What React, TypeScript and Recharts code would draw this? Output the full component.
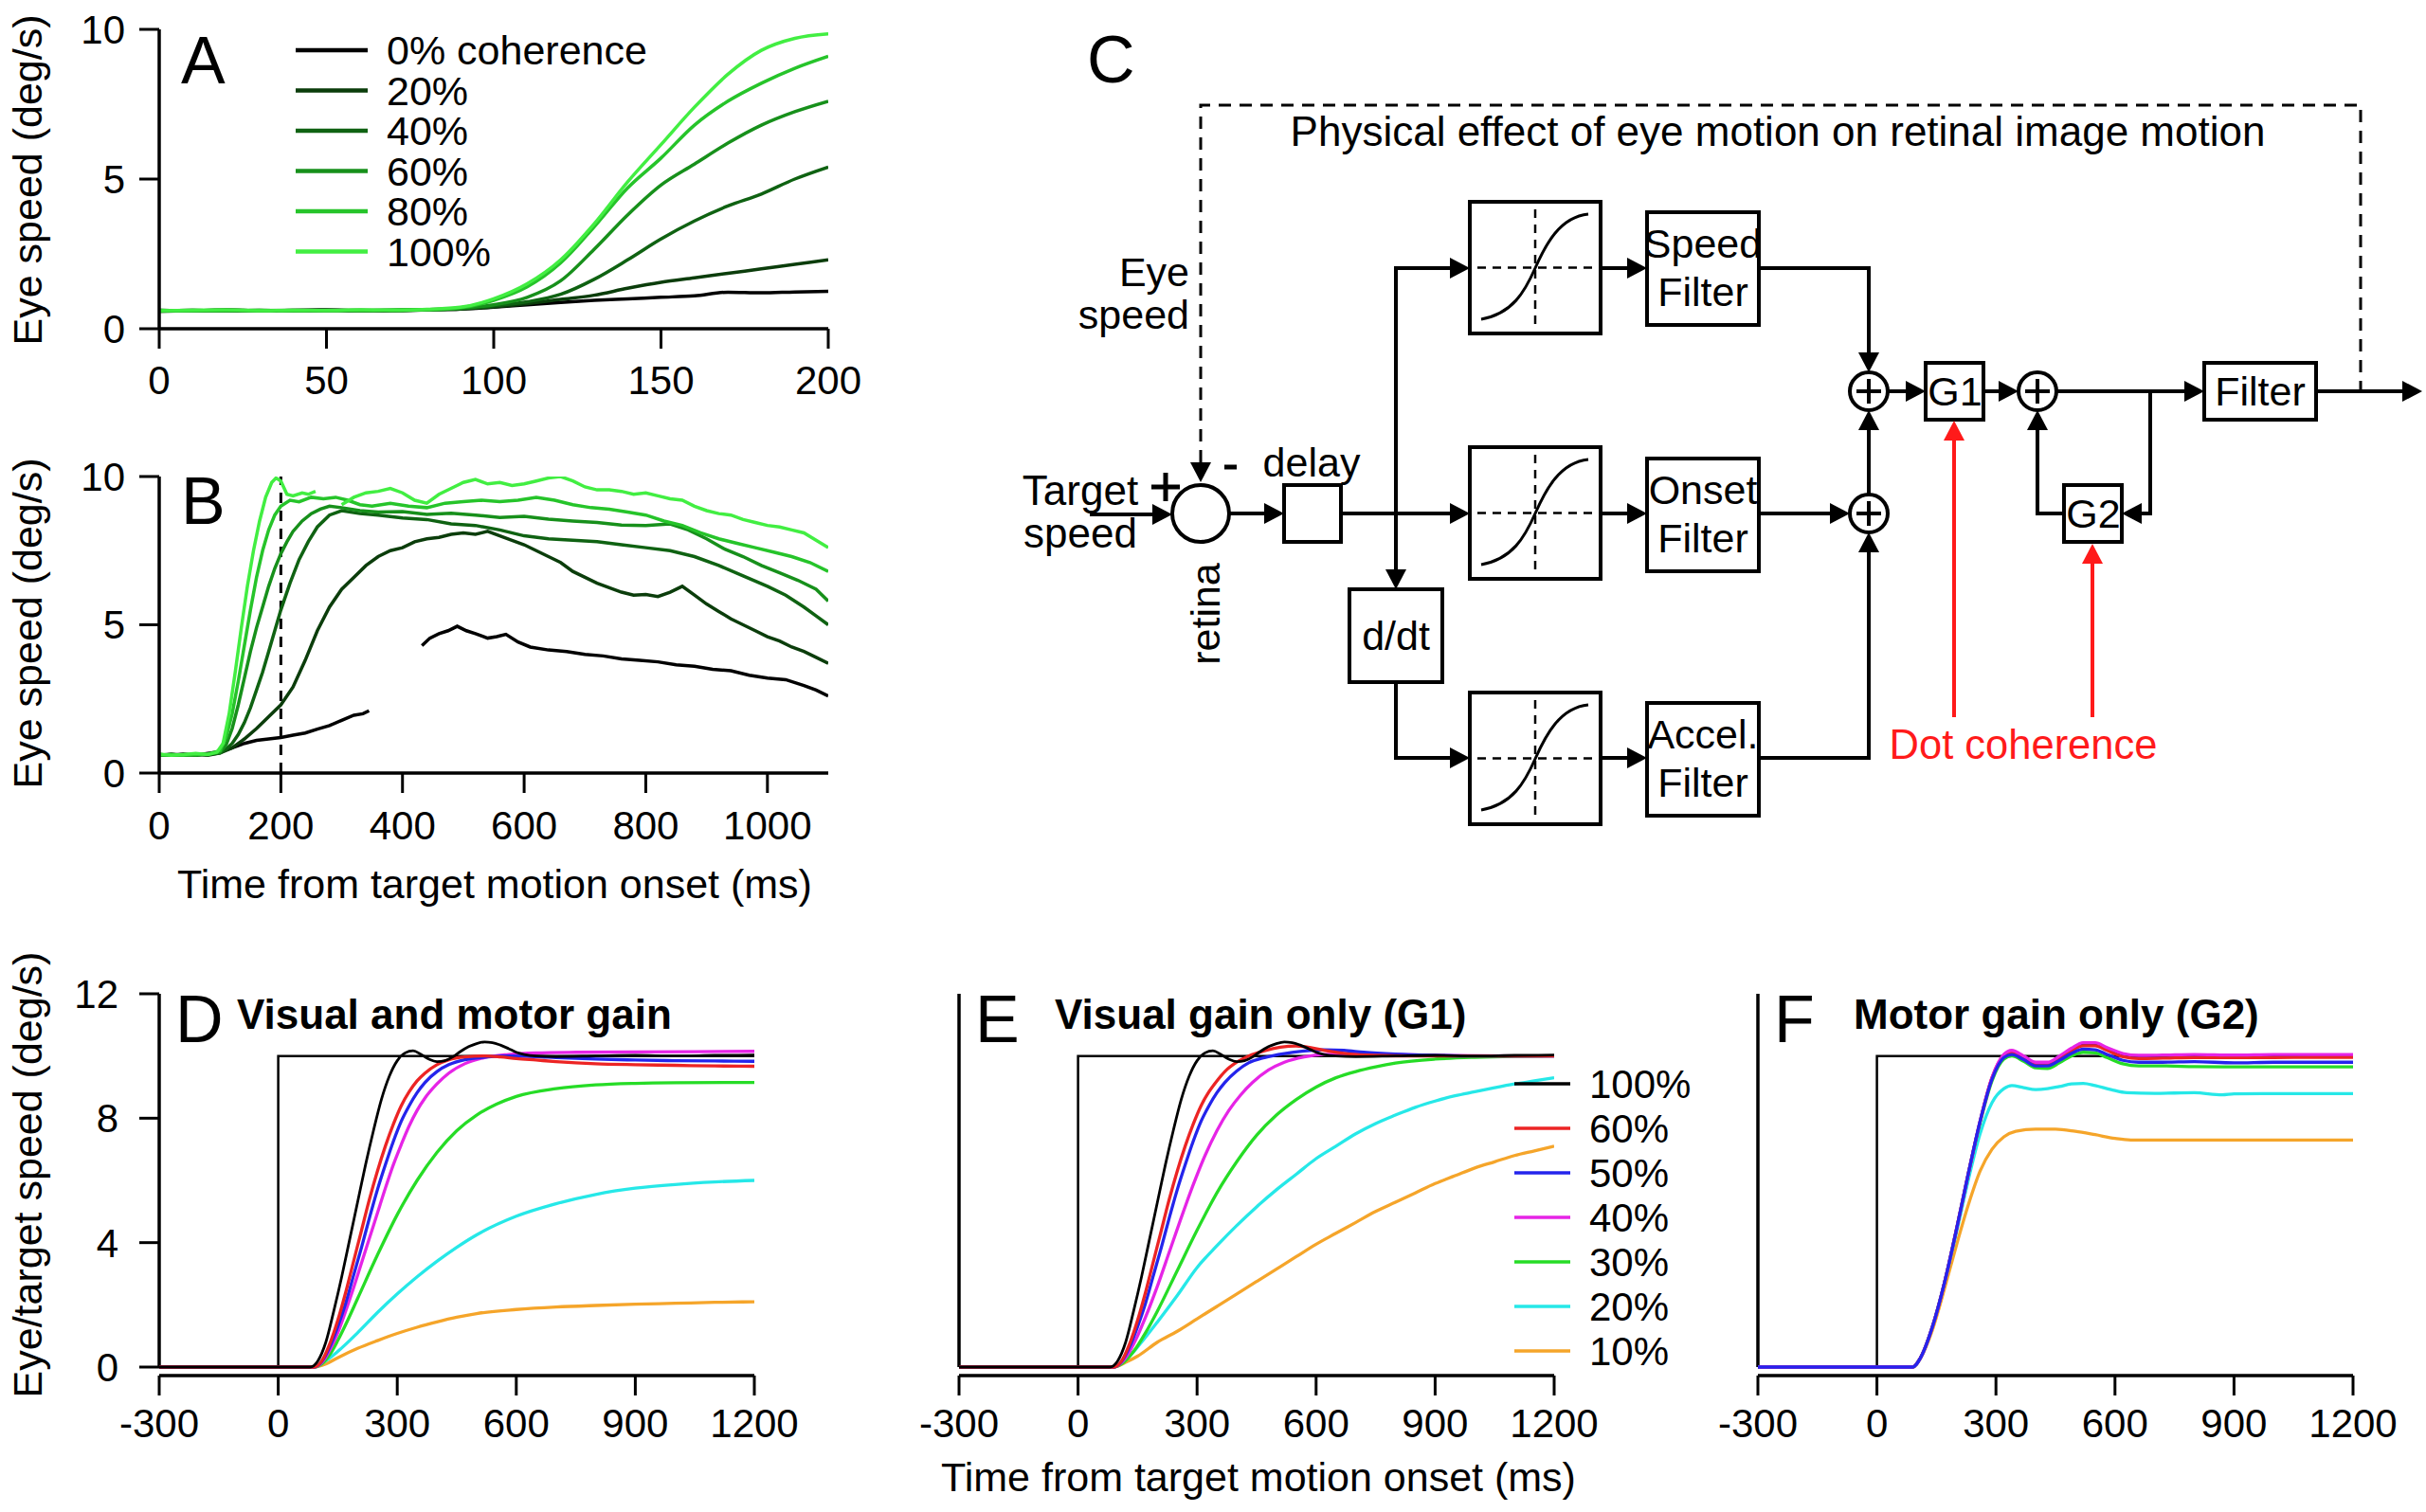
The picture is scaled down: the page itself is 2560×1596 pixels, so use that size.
import React from 'react';
import { LineChart, Line, XAxis, YAxis, ReferenceLine } from 'recharts';

const FONT = '"Liberation Sans", Arial, Helvetica, sans-serif';

// ---------------- Panel A (0-200 ms) ----------------
const A_TIME = [0, 10, 20, 30, 40, 50, 60, 70, 80, 90, 100, 110, 120, 130, 140, 150, 160, 170, 180, 190, 200];
const A_0 = [0.62, 0.6, 0.63, 0.6, 0.62, 0.63, 0.61, 0.62, 0.64, 0.66, 0.72, 0.8, 0.88, 0.95, 1.0, 1.05, 1.1, 1.22, 1.2, 1.23, 1.25];
const A_20 = [0.6, 0.62, 0.6, 0.62, 0.6, 0.61, 0.62, 0.6, 0.63, 0.66, 0.73, 0.84, 0.98, 1.12, 1.35, 1.55, 1.7, 1.85, 2.0, 2.15, 2.3];
const A_40 = [0.58, 0.6, 0.62, 0.6, 0.61, 0.62, 0.6, 0.61, 0.63, 0.67, 0.76, 0.9, 1.15, 1.65, 2.3, 3.0, 3.6, 4.1, 4.5, 5.0, 5.4];
const A_60 = [0.6, 0.62, 0.6, 0.61, 0.62, 0.6, 0.62, 0.61, 0.63, 0.68, 0.8, 1.05, 1.6, 2.65, 3.8, 4.8, 5.5, 6.2, 6.8, 7.25, 7.6];
const A_80 = [0.62, 0.6, 0.61, 0.62, 0.6, 0.62, 0.61, 0.63, 0.64, 0.7, 0.95, 1.4, 2.2, 3.4, 4.7, 5.7, 6.8, 7.6, 8.2, 8.7, 9.1];
const A_100 = [0.6, 0.62, 0.63, 0.6, 0.62, 0.61, 0.63, 0.62, 0.65, 0.72, 1.0, 1.5, 2.3, 3.5, 4.9, 6.15, 7.4, 8.5, 9.3, 9.7, 9.85];
const A_LABELS = ['0% coherence', '20%', '40%', '60%', '80%', '100%'];
const GREENS = ['#000000', '#0b3d0b', '#0f6212', '#17901b', '#26c42a', '#42ee42'];
const A_X_TICKS = [0, 50, 100, 150, 200];
const AB_Y_TICKS = [0, 5, 10];

// ---------------- Panel B (0-1100 ms) ----------------
const B_0 = [[0,0.62],[20,0.6],[40,0.64],[60,0.6],[80,0.66],[100,0.72],[120,0.85],[140,1.0],[160,1.1],[180,1.15],[200,1.2],[220,1.28],[240,1.35],[260,1.48],[280,1.6],[300,1.78],[320,1.95],[335,2.0],[345,2.1],[346,null],[432,4.3],[445,4.55],[460,4.7],[475,4.8],[490,4.95],[505,4.8],[520,4.7],[540,4.55],[555,4.6],[570,4.68],[590,4.42],[610,4.25],[640,4.15],[670,4.1],[700,4.0],[730,3.95],[760,3.85],[790,3.8],[820,3.75],[850,3.65],[880,3.6],[910,3.5],[940,3.45],[970,3.3],[1000,3.2],[1030,3.15],[1060,2.95],[1080,2.8],[1100,2.6]];
const B_20 = [[0,0.6],[20,0.64],[40,0.6],[60,0.63],[80,0.6],[100,0.68],[120,0.85],[140,1.15],[160,1.5],[180,1.9],[200,2.3],[220,2.9],[240,3.8],[260,4.8],[280,5.6],[300,6.2],[320,6.6],[340,7.0],[360,7.3],[380,7.5],[400,7.6],[420,7.8],[440,7.9],[460,7.95],[480,8.05],[500,8.1],[520,8.05],[540,8.15],[560,8.0],[580,7.85],[600,7.7],[620,7.5],[640,7.3],[660,7.1],[680,6.8],[700,6.6],[720,6.4],[740,6.25],[760,6.1],[780,6.0],[800,6.02],[820,5.95],[840,6.1],[860,6.3],[880,6.0],[900,5.7],[920,5.45],[940,5.2],[960,5.0],[980,4.8],[1000,4.6],[1020,4.45],[1040,4.25],[1060,4.1],[1080,3.9],[1100,3.7]];
const B_40 = [[0,0.6],[20,0.62],[40,0.6],[60,0.64],[80,0.62],[100,0.68],[110,0.8],[120,1.0],[130,1.3],[140,1.7],[150,2.2],[160,2.8],[170,3.4],[180,4.1],[190,4.8],[200,5.5],[215,6.4],[230,7.2],[245,7.8],[260,8.3],[280,8.7],[300,8.85],[330,8.75],[360,8.7],[400,8.6],[440,8.55],[480,8.4],[520,8.35],[560,8.2],[600,8.0],[640,7.9],[680,7.85],[720,7.8],[760,7.7],[800,7.6],[840,7.5],[880,7.3],[920,7.0],[960,6.65],[1000,6.3],[1030,6.0],[1060,5.6],[1080,5.3],[1100,5.0]];
const B_60 = [[0,0.62],[20,0.6],[40,0.63],[60,0.6],[80,0.64],[100,0.7],[110,0.95],[120,1.5],[130,2.3],[140,3.2],[150,4.1],[160,4.9],[170,5.6],[180,6.3],[190,6.9],[200,7.4],[210,7.8],[220,8.15],[235,8.5],[250,8.75],[265,8.9],[280,9.0],[300,8.95],[330,8.85],[360,8.8],[400,8.82],[440,8.72],[480,8.76],[520,8.7],[560,8.62],[600,8.66],[640,8.56],[680,8.5],[720,8.45],[760,8.36],[800,8.35],[840,8.4],[870,8.2],[900,7.9],[930,7.55],[960,7.3],[990,7.0],[1020,6.75],[1050,6.5],[1080,6.2],[1100,5.8]];
const B_80 = [[0,0.6],[20,0.62],[40,0.6],[60,0.62],[80,0.64],[100,0.75],[110,1.2],[120,2.0],[130,3.1],[140,4.3],[150,5.5],[160,6.6],[170,7.5],[180,8.2],[190,8.7],[200,9.0],[215,9.2],[230,9.15],[250,9.3],[270,9.25],[290,9.3],[310,9.2],[330,9.05],[350,9.0],[380,9.1],[410,9.0],[440,8.95],[470,9.1],[500,9.15],[530,9.2],[560,9.15],[590,9.2],[620,9.3],[650,9.2],[680,9.05],[710,8.95],[740,8.9],[770,8.8],[800,8.7],[830,8.5],[860,8.35],[890,8.1],[920,7.9],[950,7.75],[980,7.6],[1010,7.45],[1040,7.3],[1070,7.1],[1100,6.8]];
const B_100 = [[0,0.64],[20,0.6],[40,0.62],[60,0.66],[80,0.62],[95,0.7],[105,1.0],[115,2.0],[125,3.4],[135,4.9],[145,6.3],[155,7.5],[165,8.5],[175,9.3],[185,9.8],[192,9.95],[200,9.85],[210,9.4],[220,9.35],[235,9.45],[245,9.4],[257,9.5],[258,null],[300,9.05],[320,9.3],[340,9.45],[360,9.5],[380,9.6],[400,9.45],[420,9.2],[440,9.1],[460,9.4],[480,9.6],[500,9.8],[520,9.9],[540,9.75],[560,9.8],[580,9.7],[600,9.75],[620,9.85],[640,9.95],[660,10.0],[680,9.85],[700,9.65],[720,9.55],[740,9.55],[760,9.5],[780,9.4],[800,9.45],[820,9.35],[840,9.25],[860,9.2],[880,9.0],[900,8.85],[920,8.75],[940,8.7],[960,8.55],[980,8.45],[1000,8.35],[1020,8.3],[1040,8.2],[1060,8.1],[1080,7.85],[1100,7.6]];
const B_X_TICKS = [0, 200, 400, 600, 800, 1000];

// ---------------- Panels D, E, F (model) ----------------
const TARGET = [[-300,0],[0,0],[0,10],[1200,10]];
const MODEL_100 = [[-300,0],[80,0],[100,0.2],[120,0.8],[140,1.8],[160,2.9],[180,4.1],[200,5.3],[220,6.5],[240,7.6],[260,8.6],[280,9.35],[300,9.85],[320,10.1],[340,10.17],[360,10.05],[380,9.9],[400,9.82],[420,9.85],[440,9.97],[460,10.15],[480,10.3],[500,10.4],[520,10.45],[540,10.43],[560,10.35],[580,10.24],[600,10.12],[620,10.05],[650,10.0],[700,9.98],[800,10.0],[900,10.02],[1000,10.0],[1100,10.02],[1200,10.03]];
const D_60 = [[-300,0],[90,0],[110,0.2],[130,0.75],[150,1.5],[170,2.4],[190,3.4],[210,4.4],[230,5.4],[250,6.3],[270,7.1],[290,7.8],[310,8.4],[330,8.85],[350,9.2],[370,9.45],[400,9.72],[430,9.88],[470,9.97],[520,10.0],[560,9.97],[600,9.92],[650,9.87],[700,9.82],[800,9.75],[900,9.72],[1000,9.7],[1100,9.68],[1200,9.67]];
const D_50 = [[-300,0],[90,0],[110,0.18],[130,0.65],[150,1.3],[170,2.05],[190,2.95],[210,3.85],[230,4.8],[250,5.7],[270,6.5],[290,7.25],[310,7.9],[330,8.4],[350,8.82],[370,9.15],[400,9.5],[430,9.72],[470,9.88],[520,9.96],[580,10.0],[650,9.98],[700,9.95],[800,9.9],[900,9.87],[1000,9.85],[1100,9.84],[1200,9.83]];
const D_40 = [[-300,0],[90,0],[110,0.15],[130,0.55],[150,1.1],[170,1.8],[190,2.55],[210,3.35],[230,4.15],[250,4.95],[270,5.75],[290,6.5],[310,7.15],[330,7.75],[350,8.25],[370,8.65],[400,9.1],[430,9.45],[470,9.75],[520,9.95],[580,10.05],[650,10.1],[750,10.12],[900,10.13],[1200,10.15]];
const D_30 = [[-300,0],[90,0],[110,0.1],[130,0.4],[150,0.85],[175,1.5],[200,2.2],[250,3.6],[300,4.9],[350,6.0],[400,6.9],[450,7.6],[500,8.1],[550,8.45],[600,8.7],[700,8.95],[800,9.07],[900,9.12],[1000,9.14],[1200,9.15]];
const D_20 = [[-300,0],[90,0],[120,0.2],[150,0.5],[200,1.1],[250,1.75],[300,2.35],[350,2.9],[400,3.4],[450,3.85],[500,4.25],[600,4.85],[700,5.25],[800,5.55],[900,5.75],[1000,5.87],[1100,5.95],[1200,6.0]];
const D_10 = [[-300,0],[90,0],[120,0.1],[150,0.3],[200,0.6],[250,0.85],[300,1.08],[350,1.28],[400,1.45],[450,1.6],[500,1.72],[600,1.85],[700,1.93],[800,1.98],[900,2.02],[1000,2.05],[1100,2.08],[1200,2.1]];

const E_60 = [[-300,0],[90,0],[110,0.2],[130,0.75],[150,1.5],[170,2.4],[190,3.4],[210,4.4],[230,5.4],[250,6.3],[270,7.1],[290,7.8],[310,8.4],[330,8.85],[350,9.2],[370,9.5],[400,9.8],[430,10.0],[470,10.17],[510,10.28],[550,10.32],[590,10.26],[630,10.16],[680,10.07],[750,10.02],[850,10.0],[1200,10.0]];
const E_50 = [[-300,0],[90,0],[110,0.18],[130,0.65],[150,1.3],[170,2.05],[190,2.95],[210,3.85],[230,4.8],[250,5.7],[270,6.5],[290,7.25],[310,7.9],[330,8.4],[350,8.82],[370,9.15],[400,9.52],[430,9.78],[470,9.95],[520,10.08],[570,10.16],[620,10.2],[670,10.18],[720,10.12],[800,10.06],[900,10.02],[1000,10.0],[1200,10.0]];
const E_40 = [[-300,0],[90,0],[110,0.15],[130,0.5],[150,1.0],[170,1.6],[200,2.6],[230,3.7],[260,4.8],[290,5.85],[320,6.8],[350,7.6],[380,8.25],[410,8.75],[440,9.15],[480,9.55],[520,9.8],[570,9.97],[620,10.05],[700,10.07],[800,10.05],[900,10.02],[1200,10.0]];
const E_30 = [[-300,0],[90,0],[110,0.1],[140,0.5],[170,1.1],[200,1.8],[250,3.1],[300,4.4],[350,5.6],[400,6.6],[450,7.45],[500,8.1],[550,8.6],[600,9.0],[650,9.3],[700,9.5],[750,9.65],[800,9.77],[900,9.9],[1000,9.96],[1100,9.99],[1200,10.0]];
const E_20 = [[-300,0],[90,0],[100,0.05],[130,0.35],[160,0.8],[200,1.45],[250,2.3],[300,3.2],[350,3.9],[400,4.55],[450,5.15],[500,5.7],[550,6.2],[600,6.7],[650,7.1],[700,7.5],[750,7.83],[800,8.1],[850,8.35],[900,8.55],[950,8.72],[1000,8.85],[1050,8.98],[1100,9.1],[1150,9.2],[1200,9.3]];
const E_10 = [[-300,0],[90,0],[120,0.15],[150,0.35],[200,0.8],[250,1.15],[300,1.55],[350,1.95],[400,2.35],[450,2.75],[500,3.15],[550,3.55],[600,3.95],[650,4.3],[700,4.65],[750,5.0],[800,5.3],[850,5.6],[900,5.9],[950,6.15],[1000,6.4],[1050,6.6],[1100,6.8],[1150,6.95],[1200,7.1]];

const F_100 = [[-300,0],[90,0],[110,0.3],[140,1.3],[170,2.7],[200,4.4],[230,6.2],[260,7.9],[290,9.3],[320,10.0],[340,10.12],[370,9.95],[400,9.75],[430,9.75],[460,9.95],[490,10.2],[520,10.38],[550,10.38],[580,10.22],[620,10.02],[660,9.95],[720,9.97],[800,10.0],[900,9.98],[1000,10.0],[1100,10.0],[1200,10.0]];
const F_60 = [[-300,0],[90,0],[110,0.3],[140,1.3],[170,2.7],[200,4.4],[230,6.2],[260,7.9],[290,9.3],[320,10.0],[340,10.1],[370,9.93],[400,9.73],[430,9.74],[460,9.93],[490,10.17],[520,10.33],[550,10.33],[580,10.18],[620,9.98],[660,9.92],[720,9.93],[800,9.95],[900,9.95],[1000,9.95],[1100,9.96],[1200,9.96]];
const F_50 = [[-300,0],[90,0],[110,0.3],[140,1.3],[170,2.7],[200,4.4],[230,6.2],[260,7.9],[290,9.25],[320,9.95],[340,10.05],[370,9.88],[400,9.68],[430,9.68],[460,9.86],[490,10.08],[520,10.22],[550,10.2],[580,10.05],[620,9.86],[660,9.8],[720,9.8],[800,9.82],[900,9.78],[1000,9.8],[1100,9.8],[1200,9.8]];
const F_40 = [[-300,0],[90,0],[110,0.3],[140,1.3],[170,2.7],[200,4.4],[230,6.2],[260,7.9],[290,9.3],[320,10.05],[340,10.18],[370,10.0],[400,9.8],[430,9.8],[460,10.0],[490,10.25],[520,10.43],[550,10.43],[580,10.27],[620,10.08],[660,10.02],[720,10.03],[800,10.05],[900,10.03],[1000,10.05],[1100,10.05],[1200,10.05]];
const F_30 = [[-300,0],[90,0],[110,0.3],[140,1.3],[170,2.7],[200,4.4],[230,6.2],[260,7.85],[290,9.2],[320,9.9],[340,10.0],[370,9.83],[400,9.62],[430,9.6],[460,9.78],[490,10.0],[520,10.12],[550,10.1],[580,9.95],[620,9.75],[660,9.68],[720,9.68],[800,9.66],[900,9.65],[1000,9.65],[1100,9.65],[1200,9.65]];
const F_20 = [[-300,0],[90,0],[110,0.3],[140,1.3],[170,2.7],[200,4.3],[230,6.0],[260,7.5],[290,8.5],[320,8.95],[340,9.05],[370,8.98],[400,8.92],[430,8.95],[460,9.02],[490,9.1],[520,9.12],[550,9.05],[590,8.92],[630,8.82],[700,8.8],[800,8.82],[870,8.75],[900,8.78],[1000,8.79],[1200,8.79]];
const F_10 = [[-300,0],[90,0],[110,0.3],[140,1.2],[170,2.5],[200,3.9],[230,5.2],[260,6.3],[290,7.0],[320,7.4],[350,7.58],[400,7.65],[450,7.65],[500,7.58],[550,7.47],[600,7.35],[640,7.3],[700,7.3],[1200,7.3]];

const MODEL_LABELS = ['100%', '60%', '50%', '40%', '30%', '20%', '10%'];
const MODEL_COLORS = ['#000000', '#ec2424', '#2424ec', '#e624e6', '#26dc26', '#26e8e8', '#f5a52a'];
const MODEL_X_TICKS = [-300, 0, 300, 600, 900, 1200];
const D_Y_TICKS = [0, 4, 8, 12];
const EF_Y_TICKS = [0, 2, 4, 6, 8, 10, 12];
// drawing order (indices into the series lists): last one on top
const DE_ORDER = [6, 5, 4, 3, 2, 1, 0];
const F_ORDER = [6, 5, 4, 0, 1, 3, 2];

const toPts = (arr) => arr.map(([t, v]) => ({ t, v }));

const tickStyle = { fontSize: 42, fill: '#000', fontFamily: FONT };

function Plot(props) {
  const { px0, px1, py0, py1, xDomain, yDomain, xTicks, yTicks, yLabels = true,
    yAxisLine = true, xTickMargin, yTickMargin, children } = props;
  const LM = 170, TM = 30, RM = 90, BM = 90;
  const w = px1 - px0 + LM + RM;
  const h = py1 - py0 + TM + BM;
  return (
    <div style={{ position: 'absolute', left: px0 - LM, top: py0 - TM }}>
      <LineChart width={w} height={h} margin={{ top: TM, right: RM, left: 0, bottom: 0 }} style={{ overflow: 'visible' }}>
        <XAxis dataKey="t" type="number" domain={xDomain} ticks={xTicks} interval={0} allowDataOverflow
          height={BM} tickSize={21} tickMargin={xTickMargin} tick={tickStyle}
          tickLine={{ stroke: '#000', strokeWidth: 3 }} axisLine={{ stroke: '#000', strokeWidth: 3.5 }} />
        <YAxis type="number" domain={yDomain} ticks={yTicks} interval={0} allowDataOverflow width={LM}
          tickSize={21} tickMargin={yTickMargin} tick={yLabels ? tickStyle : false}
          tickLine={{ stroke: '#000', strokeWidth: 3 }} axisLine={yAxisLine ? { stroke: '#000', strokeWidth: 3.5 } : false} />
        {children}
      </LineChart>
    </div>
  );
}

const A_DATA = A_TIME.map((t, i) => ({ t, c0: A_0[i], c20: A_20[i], c40: A_40[i], c60: A_60[i], c80: A_80[i], c100: A_100[i] }));
const A_KEYS = ['c0', 'c20', 'c40', 'c60', 'c80', 'c100'];
const B_SERIES = [B_0, B_20, B_40, B_60, B_80, B_100];

function ModelPlot({ px0, series, yLabels, yTicks, order }) {
  return (
    <Plot px0={px0} px1={px0 + 628} py0={1049} py1={1452} xDomain={[-300, 1200]} yDomain={[-0.274, 12]}
      xTicks={MODEL_X_TICKS} yTicks={yTicks} yLabels={yLabels} yAxisLine={false} xTickMargin={14} yTickMargin={22}>
      {[
        <ReferenceLine key="yaxis" segment={[{ x: -300, y: 0 }, { x: -300, y: 12 }]} stroke="#000" strokeWidth={3.5} ifOverflow="visible" />,
        <Line key="target" data={toPts(TARGET)} dataKey="v" type="linear" dot={false} stroke="#000" strokeWidth={2.5} isAnimationActive={false} />,
        ...order.map((i) => (
          <Line key={'m' + i} data={toPts(series[i])} dataKey="v" type="monotone" dot={false}
            stroke={MODEL_COLORS[i]} strokeWidth={i === 0 ? 2.8 : 3.3} isAnimationActive={false} />
        )),
      ]}
    </Plot>
  );
}

// ---------- Diagram helpers ----------
function Arrow({ x, y, dir, color = '#000' }) {
  const L = 21, W = 11;
  let pts = '';
  if (dir === 'r') pts = `${x},${y} ${x - L},${y - W} ${x - L},${y + W}`;
  if (dir === 'l') pts = `${x},${y} ${x + L},${y - W} ${x + L},${y + W}`;
  if (dir === 'd') pts = `${x},${y} ${x - W},${y - L} ${x + W},${y - L}`;
  if (dir === 'u') pts = `${x},${y} ${x - W},${y + L} ${x + W},${y + L}`;
  return <polygon points={pts} fill={color} stroke="none" />;
}

function SumNode({ cx, cy }) {
  return (
    <g>
      <circle cx={cx} cy={cy} r={20} fill="#fff" stroke="#000" strokeWidth={4} />
      <line x1={cx - 13} y1={cy} x2={cx + 13} y2={cy} stroke="#000" strokeWidth={4} />
      <line x1={cx} y1={cy - 13} x2={cx} y2={cy + 13} stroke="#000" strokeWidth={4} />
    </g>
  );
}

function SigBox({ x, y }) {
  const w = 138, h = 139;
  return (
    <g>
      <rect x={x} y={y} width={w} height={h} fill="#fff" stroke="#000" strokeWidth={4} />
      <line x1={x + 8} y1={y + h / 2} x2={x + w - 8} y2={y + h / 2} stroke="#000" strokeWidth={2.5} strokeDasharray="9 7" />
      <line x1={x + w / 2} y1={y + 8} x2={x + w / 2} y2={y + h - 8} stroke="#000" strokeWidth={2.5} strokeDasharray="9 7" />
      <path d={`M${x + 12},${y + 124} C${x + 45},${y + 118} ${x + 58},${y + 95} ${x + 69},${y + 70} S${x + 95},${y + 16} ${x + 125},${y + 13}`}
        fill="none" stroke="#000" strokeWidth={3} />
    </g>
  );
}

function FilterBox({ y, l1, l2 }) {
  const x = 1738, w = 118, h = 119;
  return (
    <g>
      <rect x={x} y={y} width={w} height={h} fill="#fff" stroke="#000" strokeWidth={4} />
      <text x={x + w / 2} y={y + 48} textAnchor="middle" fontSize={43} fontFamily={FONT}>{l1}</text>
      <text x={x + w / 2} y={y + 99} textAnchor="middle" fontSize={43} fontFamily={FONT}>{l2}</text>
    </g>
  );
}

function Diagram() {
  const s = { stroke: '#000', strokeWidth: 4, fill: 'none' };
  return (
    <g>
      <text x={1147} y={87} fontSize={70} fontFamily={FONT}>C</text>
      {/* feedback dashed path */}
      <path d="M1267,488 L1267,111 L2491,111 L2491,413" stroke="#000" strokeWidth={3} fill="none" strokeDasharray="13 9" />
      <Arrow x={1267} y={509} dir="d" />
      <text x={1876} y={154} textAnchor="middle" fontSize={44} fontFamily={FONT}>Physical effect of eye motion on retinal image motion</text>
      <text x={1255} y={302} textAnchor="end" fontSize={43} fontFamily={FONT}>Eye</text>
      <text x={1255} y={347} textAnchor="end" fontSize={43} fontFamily={FONT}>speed</text>
      <text x={1140} y={533} textAnchor="middle" fontSize={44} fontFamily={FONT}>Target</text>
      <text x={1140} y={578} textAnchor="middle" fontSize={44} fontFamily={FONT}>speed</text>
      <line x1={1215} y1={514} x2={1245} y2={514} stroke="#000" strokeWidth={5} />
      <line x1={1230} y1={499} x2={1230} y2={529} stroke="#000" strokeWidth={5} />
      <line x1={1292} y1={493} x2={1305} y2={493} stroke="#000" strokeWidth={5} />
      {/* retina node */}
      <path d="M1150,543 L1220,543" {...s} />
      <Arrow x={1237} y={543} dir="r" />
      <circle cx={1267} cy={542} r={30} fill="#fff" stroke="#000" strokeWidth={4} />
      <text transform="translate(1287,648) rotate(-90)" textAnchor="middle" fontSize={43} fontFamily={FONT}>retina</text>
      <path d="M1297,542 L1337,542" {...s} />
      <Arrow x={1355} y={542} dir="r" />
      <rect x={1355} y={512} width={60} height={60} fill="#fff" stroke="#000" strokeWidth={4} />
      <text x={1384} y={503} textAnchor="middle" fontSize={43} fontFamily={FONT}>delay</text>
      {/* main line & branches */}
      <path d="M1415,542 L1533,542" {...s} />
      <Arrow x={1551} y={542} dir="r" />
      <path d="M1533,283 L1473,283 L1473,604" {...s} />
      <Arrow x={1551} y={283} dir="r" />
      <Arrow x={1473} y={622} dir="d" />
      <rect x={1424} y={622} width={98} height={98} fill="#fff" stroke="#000" strokeWidth={4} />
      <text x={1473} y={686} textAnchor="middle" fontSize={43} fontFamily={FONT}>d/dt</text>
      <path d="M1473,720 L1473,800 L1533,800" {...s} />
      <Arrow x={1551} y={800} dir="r" />
      <SigBox x={1551} y={213} />
      <SigBox x={1551} y={472} />
      <SigBox x={1551} y={731} />
      {[283, 542, 800].map((y) => (
        <g key={y}>
          <path d={`M1689,${y} L1720,${y}`} {...s} />
          <Arrow x={1738} y={y} dir="r" />
        </g>
      ))}
      <FilterBox y={224} l1="Speed" l2="Filter" />
      <FilterBox y={484} l1="Onset" l2="Filter" />
      <FilterBox y={742} l1="Accel." l2="Filter" />
      {/* summations */}
      <path d="M1856,283 L1972,283 L1972,375" {...s} />
      <Arrow x={1972} y={393} dir="d" />
      <path d="M1856,542 L1934,542" {...s} />
      <Arrow x={1952} y={542} dir="r" />
      <path d="M1856,800 L1972,800 L1972,580" {...s} />
      <Arrow x={1972} y={562} dir="u" />
      <path d="M1972,522 L1972,452" {...s} />
      <Arrow x={1972} y={433} dir="u" />
      <SumNode cx={1972} cy={413} />
      <SumNode cx={1972} cy={542} />
      <path d="M1992,413 L2014,413" {...s} />
      <Arrow x={2032} y={413} dir="r" />
      <rect x={2032} y={383} width={61} height={60} fill="#fff" stroke="#000" strokeWidth={4} />
      <text x={2063} y={428} textAnchor="middle" fontSize={43} fontFamily={FONT}>G1</text>
      <path d="M2093,413 L2112,413" {...s} />
      <Arrow x={2130} y={413} dir="r" />
      <SumNode cx={2150} cy={413} />
      <path d="M2170,413 L2308,413" {...s} />
      <Arrow x={2326} y={413} dir="r" />
      <path d="M2269,413 L2269,542 L2257,542" {...s} />
      <Arrow x={2239} y={542} dir="l" />
      <rect x={2178} y={512} width={61} height={60} fill="#fff" stroke="#000" strokeWidth={4} />
      <text x={2209} y={557} textAnchor="middle" fontSize={43} fontFamily={FONT}>G2</text>
      <path d="M2178,542 L2150,542 L2150,452" {...s} />
      <Arrow x={2150} y={433} dir="u" />
      <rect x={2326} y={383} width={118} height={60} fill="#fff" stroke="#000" strokeWidth={4} />
      <text x={2385} y={428} textAnchor="middle" fontSize={43} fontFamily={FONT}>Filter</text>
      <path d="M2444,413 L2536,413" {...s} />
      <Arrow x={2556} y={413} dir="r" />
      {/* coherence inputs */}
      <path d="M2062,757 L2062,462" stroke="#ff1a1a" strokeWidth={4} fill="none" />
      <Arrow x={2062} y={444} dir="u" color="#ff1a1a" />
      <path d="M2208,757 L2208,592" stroke="#ff1a1a" strokeWidth={4} fill="none" />
      <Arrow x={2208} y={574} dir="u" color="#ff1a1a" />
      <text x={2135} y={801} textAnchor="middle" fontSize={43.5} fontFamily={FONT} fill="#ff1a1a">Dot coherence</text>
    </g>
  );
}

function Overlay() {
  return (
    <svg width={2560} height={1596} style={{ position: 'absolute', left: 0, top: 0, pointerEvents: 'none' }}>
      {/* Panel letters & axis titles */}
      <text x={191} y={88} fontSize={70} fontFamily={FONT}>A</text>
      <text x={191} y={553} fontSize={70} fontFamily={FONT}>B</text>
      <text transform="translate(44,190) rotate(-90)" textAnchor="middle" fontSize={43} fontFamily={FONT}>Eye speed (deg/s)</text>
      <text transform="translate(44,658) rotate(-90)" textAnchor="middle" fontSize={43} fontFamily={FONT}>Eye speed (deg/s)</text>
      <text x={522} y={948} textAnchor="middle" fontSize={43} fontFamily={FONT}>Time from target motion onset (ms)</text>
      {/* Legend A */}
      {A_LABELS.map((lab, i) => (
        <g key={lab}>
          <line x1={312} y1={53 + i * 42.5} x2={388} y2={53 + i * 42.5} stroke={GREENS[i]} strokeWidth={4.5} />
          <text x={408} y={53 + i * 42.5} dominantBaseline="central" fontSize={43} fontFamily={FONT}>{lab}</text>
        </g>
      ))}
      <Diagram />
      {/* Bottom panels */}
      <text transform="translate(44,1240) rotate(-90)" textAnchor="middle" fontSize={43} fontFamily={FONT}>Eye/target speed (deg/s)</text>
      <text x={185} y={1100} fontSize={70} fontFamily={FONT}>D</text>
      <text x={250} y={1086} fontSize={44} fontWeight="bold" fontFamily={FONT}>Visual and motor gain</text>
      <text x={1029} y={1100} fontSize={70} fontFamily={FONT}>E</text>
      <text x={1113} y={1086} fontSize={44} fontWeight="bold" fontFamily={FONT}>Visual gain only (G1)</text>
      <text x={1872} y={1100} fontSize={70} fontFamily={FONT}>F</text>
      <text x={1956} y={1086} fontSize={44} fontWeight="bold" fontFamily={FONT}>Motor gain only (G2)</text>
      <text x={1328} y={1574} textAnchor="middle" fontSize={43} fontFamily={FONT}>Time from target motion onset (ms)</text>
      {MODEL_LABELS.map((lab, i) => (
        <g key={lab}>
          <line x1={1598} y1={1144 + i * 47} x2={1657} y2={1144 + i * 47} stroke={MODEL_COLORS[i]} strokeWidth={3.5} />
          <text x={1677} y={1144 + i * 47} dominantBaseline="central" fontSize={42} fontFamily={FONT}>{lab}</text>
        </g>
      ))}
    </svg>
  );
}

export default function App() {
  return (
    <div style={{ position: 'absolute', left: 0, top: 0, width: 2560, height: 1596, background: '#fff', overflow: 'hidden', fontFamily: FONT }}>
      {/* Panel A */}
      <Plot px0={168} px1={874} py0={31} py1={347} xDomain={[0, 200]} yDomain={[0, 10]}
        xTicks={A_X_TICKS} yTicks={AB_Y_TICKS} xTickMargin={18} yTickMargin={15}>
        {A_KEYS.map((k, i) => (
          <Line key={k} data={A_DATA} dataKey={k} type="monotone" dot={false} stroke={GREENS[i]} strokeWidth={3.5} isAnimationActive={false} />
        ))}
      </Plot>
      {/* Panel B */}
      <Plot px0={168} px1={874} py0={503} py1={816} xDomain={[0, 1100]} yDomain={[0, 10]}
        xTicks={B_X_TICKS} yTicks={AB_Y_TICKS} xTickMargin={19} yTickMargin={15}>
        {[
          <ReferenceLine key="dash" segment={[{ x: 200, y: 0 }, { x: 200, y: 10 }]} stroke="#000" strokeWidth={3} strokeDasharray="11 8" ifOverflow="visible" />,
          ...B_SERIES.map((s, i) => (
            <Line key={'b' + i} data={toPts(s)} dataKey="v" type="linear" dot={false} stroke={GREENS[i]} strokeWidth={3.5} isAnimationActive={false} connectNulls={false} />
          )),
        ]}
      </Plot>
      <ModelPlot px0={168} yLabels={true} yTicks={D_Y_TICKS} order={DE_ORDER} series={[MODEL_100, D_60, D_50, D_40, D_30, D_20, D_10]} />
      <ModelPlot px0={1012} yLabels={false} yTicks={EF_Y_TICKS} order={DE_ORDER} series={[MODEL_100, E_60, E_50, E_40, E_30, E_20, E_10]} />
      <ModelPlot px0={1855} yLabels={false} yTicks={EF_Y_TICKS} order={F_ORDER} series={[F_100, F_60, F_50, F_40, F_30, F_20, F_10]} />
      <Overlay />
    </div>
  );
}
